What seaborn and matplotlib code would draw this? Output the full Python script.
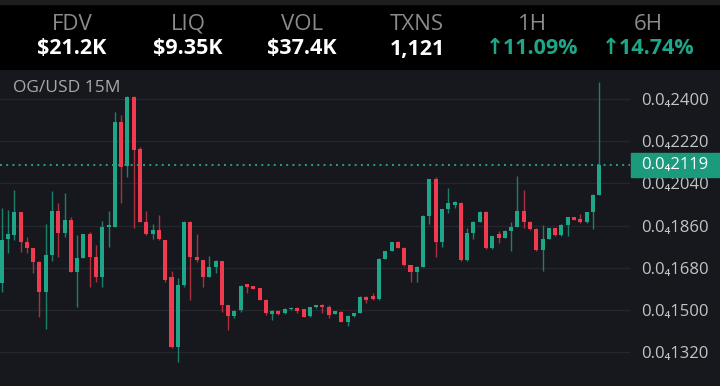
import numpy as np
import pandas as pd
import seaborn as sns
import matplotlib.pyplot as plt
from matplotlib.patches import Rectangle
from matplotlib.transforms import blended_transform_factory

# candle data (price in units of 1e-8 USD, shown as 0.0₄xxxx)
opens = [1614, 1801, 1820, 1918, 1791, 1763, 1706, 1578, 1735, 1922,
         1830, 1884, 1664, 1720, 1824, 1727, 1642, 1853, 1855, 2303,
         2114, 2410, 2185, 1877, 1824, 1841, 1799, 1639, 1344, 1607,
         1877, 1727, 1713, 1642, 1685, 1709, 1521, 1474, 1500, 1611,
         1602, 1592, 1543, 1484, 1497, 1486, 1503, 1510, 1503, 1474,
         1511, 1523, 1514, 1484, 1493, 1449, 1474, 1489, 1557, 1560,
         1545, 1718, 1752, 1790, 1766, 1692, 1662, 1685, 1902, 2057,
         1790, 1929, 1948, 1958, 1713, 1827, 1877, 1919, 1763, 1823,
         1809, 1837, 1855, 1924, 1877, 1845, 1756, 1803, 1848, 1820,
         1863, 1895, 1889, 1874, 1917, 1991]
highs = [1934, 1927, 2012, 1920, 1813, 1765, 1708, 1867, 2009, 1955,
         1998, 1898, 1820, 1826, 1834, 1777, 1881, 1924, 2343, 2332,
         2413, 2413, 2197, 1922, 1867, 1905, 1800, 1668, 1635, 1878,
         1878, 1824, 1713, 1730, 1713, 1711, 1521, 1500, 1607, 1613,
         1604, 1594, 1545, 1500, 1500, 1508, 1514, 1511, 1505, 1513,
         1521, 1524, 1520, 1498, 1496, 1477, 1488, 1560, 1560, 1571,
         1720, 1754, 1792, 1793, 1768, 1694, 1687, 1905, 2059, 2066,
         1932, 2019, 1964, 1960, 1848, 1879, 1921, 1921, 1818, 1837,
         1840, 1877, 2072, 2012, 1879, 1848, 1863, 1850, 1851, 1865,
         1897, 1897, 1908, 1919, 1993, 2474]
lows = [1578, 1742, 1799, 1749, 1742, 1659, 1469, 1418, 1709, 1727,
        1813, 1664, 1514, 1720, 1597, 1621, 1600, 1770, 1853, 1955,
        2069, 1848, 1875, 1822, 1801, 1799, 1619, 1337, 1280, 1600,
        1543, 1706, 1597, 1640, 1656, 1493, 1415, 1467, 1493, 1574,
        1590, 1541, 1479, 1457, 1479, 1484, 1500, 1486, 1470, 1472,
        1510, 1489, 1467, 1482, 1447, 1432, 1472, 1486, 1531, 1543,
        1543, 1716, 1750, 1764, 1690, 1621, 1621, 1683, 1867, 1725,
        1770, 1912, 1934, 1711, 1711, 1803, 1875, 1761, 1761, 1784,
        1807, 1752, 1853, 1851, 1843, 1754, 1666, 1801, 1818, 1818,
        1816, 1882, 1872, 1872, 1845, 1989]
closes = [1799, 1823, 1918, 1791, 1763, 1706, 1578, 1735, 1922, 1827,
          1884, 1664, 1720, 1824, 1727, 1642, 1855, 1863, 2303, 2111,
          2410, 2182, 1877, 1824, 1841, 1801, 1628, 1344, 1607, 1877,
          1727, 1713, 1642, 1685, 1709, 1521, 1476, 1496, 1602, 1597,
          1591, 1543, 1486, 1496, 1484, 1506, 1510, 1497, 1472, 1511,
          1520, 1511, 1479, 1496, 1449, 1474, 1486, 1557, 1543, 1545,
          1718, 1752, 1790, 1766, 1692, 1662, 1685, 1902, 2057, 1790,
          1929, 1955, 1962, 1713, 1827, 1877, 1919, 1763, 1816, 1806,
          1838, 1855, 1924, 1877, 1845, 1756, 1803, 1848, 1820, 1863,
          1895, 1884, 1874, 1917, 1991, 2119]

last_price = 2119
y_ticks = [1320, 1500, 1680, 1860, 2040, 2220, 2400]

stat_labels = ['FDV', 'LIQ', 'VOL', 'TXNS', '1H', '6H']
stat_values = ['$21.2K', '$9.35K', '$37.4K', '1,121', '↑11.09%', '↑14.74%']
stat_up = [False, False, False, False, True, True]

title = 'OG/USD 15M'


def fmt_price(v):
    return '0.0\u2084' + str(v)


df = pd.DataFrame({'open': opens, 'high': highs, 'low': lows,
                   'close': closes})
df['t'] = np.arange(len(df))
df['up'] = df.close >= df.open

BG = '#17181d'
GREEN = '#1fa587'
RED = '#ef3a4f'
GREEN_W = '#1a8069'
RED_W = '#a8303f'

sns.set_theme(style='dark', rc={'axes.facecolor': BG,
                                'figure.facecolor': BG})
plt.rcParams['font.family'] = ['Open Sans', 'DejaVu Sans']

fig = plt.figure(figsize=(7.2, 3.86), dpi=100)

# header band
hdr = fig.add_axes([0, 1 - 70 / 386, 1, 70 / 386])
hdr.set_facecolor('#000000')
hdr.set_xlim(0, 720)
hdr.set_ylim(70, 0)
hdr.axis('off')
hdr.add_patch(Rectangle((0, 0), 720, 70, color='#000000', zorder=0))
hdr.add_patch(Rectangle((0, 0), 720, 4, color='#1e1e1e', zorder=1))

centers = [72, 188, 302, 417, 532, 648]
for cx, lab, val, up in zip(centers, stat_labels, stat_values, stat_up):
    hdr.text(cx, 24, lab, ha='center', va='center', fontsize=16,
             color='#8a8a8a')
    hdr.text(cx, 49, val, ha='center', va='center', fontsize=15.5,
             fontweight='bold', color=GREEN if up else '#ffffff')

# price chart
ax = fig.add_axes([0, 0, 630 / 720, 316 / 386])
ax.set_facecolor(BG)

for y in y_ticks:
    ax.axhline(y, color='#26272d', lw=1, zorder=0)

wick_cols = np.where(df.up, GREEN_W, RED_W)
body_cols = np.where(df.up, GREEN, RED)
ax.vlines(df.t, df.low, df.high, colors=wick_cols, lw=1, zorder=2)
body_lo = np.minimum(df.open, df.close)
body_h = np.maximum(np.abs(df.close - df.open), 4)
ax.bar(df.t, body_h, bottom=body_lo, width=0.64, color=body_cols,
       linewidth=0, zorder=3)

ax.axhline(last_price, color='#2a9d86', lw=1.4, ls=(0, (1, 2.2)), zorder=4)

ax.set_xlim(-0.27, 99.9)
ax.set_ylim(1176, 2524)
ax.set_xticks([])
ax.yaxis.tick_right()
ax.set_yticks(y_ticks)
ax.set_yticklabels([fmt_price(v) for v in y_ticks])
ax.tick_params(axis='y', length=0, pad=8, labelsize=12, labelcolor='#c4c4c4')
for s in ax.spines.values():
    s.set_visible(False)
ax.grid(False)

ax.text(13 / 630, (386 - 88) / 316, title, fontsize=12.5, color='#a9a9a9',
        ha='left', va='center', transform=ax.transAxes)

# last price tag
tr = blended_transform_factory(fig.transFigure, ax.transData)
ax.add_patch(Rectangle((631 / 720, last_price - 12 * 4.2654), 89 / 720,
                       24 * 4.2654, transform=tr, color='#1b9a7c',
                       clip_on=False, zorder=10))
ax.text(641 / 720, last_price, fmt_price(last_price), transform=tr,
        fontsize=12, color='#ffffff', va='center', ha='left', zorder=11)

fig.savefig('out.png', dpi=100, facecolor=BG)
